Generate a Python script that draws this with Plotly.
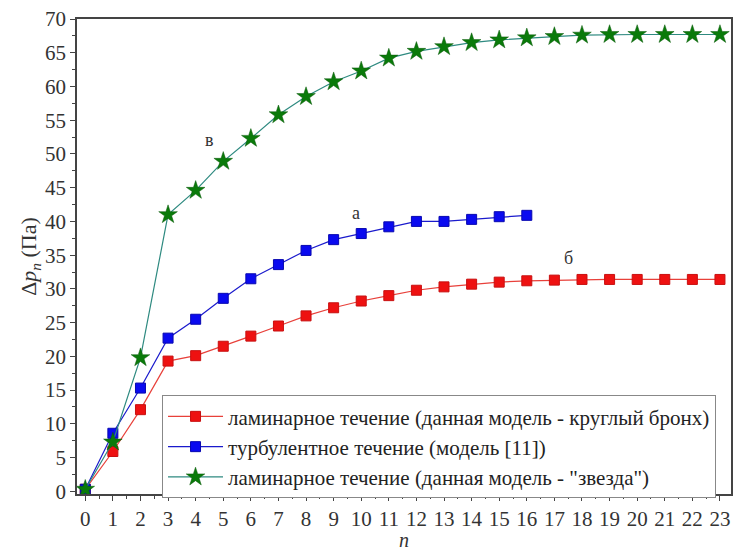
import plotly.graph_objects as go

n_red = list(range(0, 24))
red = [0.3, 5.9, 12.1, 19.3, 20.1, 21.5, 23.0, 24.5, 26.0, 27.2, 28.2, 29.0, 29.8,
       30.3, 30.7, 31.0, 31.2, 31.3, 31.4, 31.4, 31.4, 31.4, 31.4, 31.4]
n_blue = list(range(0, 17))
blue = [0.3, 8.6, 15.3, 22.7, 25.5, 28.6, 31.5, 33.6, 35.7, 37.3, 38.2, 39.2, 40.0,
        40.0, 40.3, 40.7, 40.9]
n_green = list(range(0, 24))
green = [0.3, 7.3, 19.8, 41.0, 44.6, 48.9, 52.3, 55.8, 58.5, 60.7, 62.3, 64.2, 65.2,
         65.9, 66.5, 66.9, 67.2, 67.4, 67.6, 67.7, 67.7, 67.7, 67.7, 67.7]

names = ["ламинарное течение (данная модель - круглый бронх)",
         "турбулентное течение (модель [11])",
         "ламинарное течение (данная модель - \"звезда\")"]
labels = [("в", 4.5, 52.0), ("а", 9.8, 41.2), ("б", 17.5, 34.6)]

FONT = "Liberation Serif, Times New Roman, serif"
fig = go.Figure()
fig.add_trace(go.Scatter(x=n_red, y=red, name=names[0], mode="lines+markers",
                         line=dict(color="#e8403a", width=1.2),
                         marker=dict(symbol="square", size=10, color="#ee1111",
                                     line=dict(color="#c81010", width=1))))
fig.add_trace(go.Scatter(x=n_blue, y=blue, name=names[1], mode="lines+markers",
                         line=dict(color="#1a1acc", width=1.2),
                         marker=dict(symbol="square", size=10, color="#0a0af0",
                                     line=dict(color="#0808b0", width=1))))
fig.add_trace(go.Scatter(x=n_green, y=green, name=names[2], mode="lines+markers",
                         line=dict(color="#2e8a80", width=1.2),
                         marker=dict(symbol="star", size=14, color="#0a7a0a",
                                     line=dict(color="#0a5a0a", width=0.5))))

for t, x, y in labels:
    fig.add_annotation(x=x, y=y, text=t, showarrow=False,
                       font=dict(family=FONT, size=18, color="#333"))

fig.update_layout(
    width=734, height=551,
    margin=dict(l=77, r=3, t=19, b=57, autoexpand=False),
    paper_bgcolor="white", plot_bgcolor="white",
    font=dict(family=FONT, size=21, color="#333"),
    showlegend=True,
    legend=dict(x=0.13, y=0.208, xanchor="left", yanchor="top",
                bgcolor="white", bordercolor="#888", borderwidth=1,
                font=dict(family=FONT, size=21, color="#222"),
                tracegroupgap=0, itemwidth=55),
    xaxis=dict(range=[-0.3, 23.4], tickmode="linear", tick0=0, dtick=1,
               automargin=False, tickfont=dict(size=21),
               showgrid=False, zeroline=False, showline=True, linecolor="#444",
               linewidth=1.5, mirror=True, ticks="outside", ticklen=5,
               tickcolor="#444",
               minor=dict(dtick=0.5, tick0=0, ticks="outside", ticklen=3, tickcolor="#444"),
               title=dict(text="<i>n</i>", standoff=6,
                          font=dict(family=FONT, size=20))),
    yaxis=dict(range=[-0.4, 70], tickmode="linear", tick0=0, dtick=5,
               automargin=False, tickfont=dict(size=21),
               showgrid=False, zeroline=False, showline=True, linecolor="#444",
               linewidth=1.5, mirror=True, ticks="outside", ticklen=5,
               tickcolor="#444",
               minor=dict(dtick=2.5, tick0=0, ticks="outside", ticklen=3, tickcolor="#444"),
               title=dict(text="Δ<i>p</i><sub><i>n</i></sub> (Па)", standoff=2,
                          font=dict(family=FONT, size=22))),
)

fig.write_html("out.html", config={"displayModeBar": False},
               post_script="document.body.style.margin='0';document.body.style.padding='0';")
